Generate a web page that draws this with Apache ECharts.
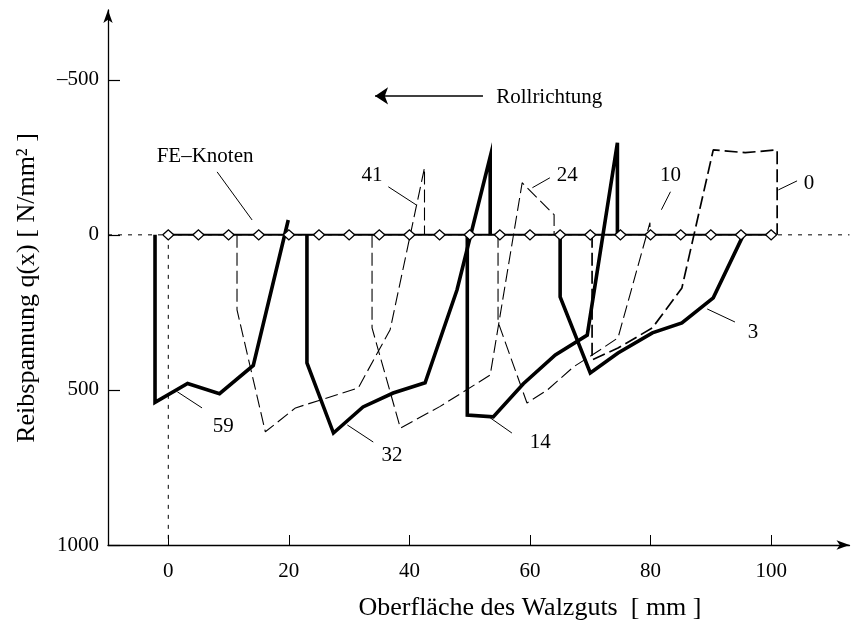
<!DOCTYPE html>
<html>
<head>
<meta charset="utf-8">
<script src="https://cdn.jsdelivr.net/npm/echarts@6/dist/echarts.min.js"></script>
<style>
html, body { margin: 0; padding: 0; background: #fff; }
#chart { width: 853px; height: 626px; }
</style>
</head>
<body>
<div id="chart"></div>
<script>
// Achsen
const xTicks = [0, 20, 40, 60, 80, 100];
const yTicks = [-500, 0, 500, 1000];

// FE-Knoten (x in mm)
const feNodes = [0, 5, 10, 15, 20, 25, 30, 35, 40, 45, 50, 55, 60, 65, 70, 75, 80, 85, 90, 95, 100];

// Reibspannungsverläufe [x mm, q N/mm²], durchgezogen
const curve59 = [[-2.2, 0], [-2.2, 540], [3.2, 479], [8.5, 512], [14.1, 421], [19.9, -48]];
const curve32 = [[23, 0], [23, 413], [27.4, 639], [32.3, 555], [37.3, 510], [42.6, 477], [47.9, 177], [53.4, -252], [53.4, 0]];
const curve14 = [[49.6, 0], [49.6, 581], [53.9, 587], [58.9, 480], [64.2, 387], [69.5, 323], [74.5, -297], [74.5, 0]];
const curve3 = [[65, 0], [65, 200], [70, 445], [74.6, 381], [80.3, 316], [85.2, 284], [90.4, 203], [95.4, 0]];

// gestrichelt
const curve41 = [[11.4, 0], [11.4, 242], [16.1, 635], [21.1, 558], [31.5, 494], [36.8, 306], [42.5, -216], [42.5, 0]];
const curve24 = [[33.8, 0], [33.8, 300], [38.5, 623], [45.1, 553], [53.4, 452], [58.7, -168], [64, -65], [64, 0]];
const curve10 = [[54.7, 0], [54.7, 281], [59.5, 542], [62.9, 500], [67.2, 426], [71.6, 371], [74.6, 332], [79.9, -39], [79.9, 0]];
const curve0 = [[70.3, 0], [70.3, 403], [74.6, 365], [80.3, 300], [85.2, 171], [90.4, -274], [95.7, -265], [101, -274], [101, 0]];

// Beschriftungen: Text, Position, Hinweislinie
const labelNames = ['59', '32', '14', '3', '41', '24', '10', '0', 'FE–Knoten', 'Rollrichtung'];
const labelPos = [[9.1, 619], [37.1, 710], [61.7, 671], [97, 316], [33.8, -190], [66.2, -190], [83.3, -190], [106.3, -165], [6.1, -252], [63.2, -442]];
const leaders = [
    [[1.5, 506], [5.6, 558]],
    [[29.7, 613], [34, 668]],
    [[53.4, 590], [57, 639]],
    [[89.4, 239], [94, 281]],
    [[36.5, -155], [41.1, -97]],
    [[63.3, -184], [60.4, -152]],
    [[83.3, -139], [81.8, -81]],
    [[104.3, -174], [101.2, -145]],
    [[8.1, -203], [13.9, -48]],
];
const rollArrow = [[52.2, -448], [34.3, -448]];

const font = '"Liberation Serif", "DejaVu Serif", serif';

function solid(name, data) {
    return {
        name: name, type: 'line', data: data, symbol: 'none', silent: true, z: 4,
        lineStyle: { color: '#000', width: 3.6, join: 'miter' },
    };
}
function dashed(name, data, width) {
    return {
        name: name, type: 'line', data: data, symbol: 'none', silent: true, z: 3,
        lineStyle: { color: '#000', width: width, type: [13, 5] },
    };
}

const chart = echarts.init(document.getElementById('chart'));
chart.setOption({
    animation: false,
    backgroundColor: '#fff',
    grid: { left: 108, top: 10, right: 3.5, bottom: 81, containLabel: false, outerBoundsMode: 'none' },
    xAxis: {
        type: 'value', min: -10, max: 113,
        splitLine: { show: false },
        axisLine: { onZero: false, symbol: ['none', 'arrow'], symbolSize: [7, 13], lineStyle: { color: '#000', width: 1.3 } },
        axisTick: { inside: true, length: 10, customValues: xTicks, lineStyle: { color: '#000' } },
        axisLabel: { customValues: xTicks, fontSize: 21, margin: 16, color: '#000', fontFamily: font },
    },
    yAxis: {
        type: 'value', inverse: true, min: -725, max: 1000,
        splitLine: { show: false },
        axisLine: { onZero: false, symbol: ['none', 'arrow'], symbolSize: [7, 13], lineStyle: { color: '#000', width: 1.3 } },
        axisTick: { inside: true, length: 12, customValues: yTicks, lineStyle: { color: '#000', width: 1.2 } },
        axisLabel: {
            customValues: yTicks, fontSize: 21, margin: 9, color: '#000', fontFamily: font,
            formatter: (v) => (v < 0 ? '–' + Math.abs(v) : String(v)),
        },
    },
    graphic: [
        {
            type: 'text', x: 530, y: 608,
            style: { text: 'Oberfläche des Walzguts  [ mm ]', font: '26px ' + font, fill: '#000', textAlign: 'center', textVerticalAlign: 'middle' },
        },
        {
            type: 'text', x: 27, y: 288, rotation: Math.PI / 2,
            style: { text: 'Reibspannung q(x) [ N/mm² ]', font: '26px ' + font, fill: '#000', textAlign: 'center', textVerticalAlign: 'middle' },
        },
    ],
    series: [
        {
            type: 'line', data: [[-10, 0], [113, 0]], symbol: 'none', silent: true, z: 1,
            lineStyle: { color: '#000', width: 1, type: [4, 6] },
        },
        {
            type: 'line', data: [[0, 0], [0, 1000]], symbol: 'none', silent: true, z: 1,
            lineStyle: { color: '#000', width: 1, type: [4, 6] },
        },
        dashed('41', curve41, 1.1),
        dashed('24', curve24, 1.1),
        dashed('10', curve10, 1.1),
        dashed('0', curve0, 1.7),
        solid('59', curve59),
        solid('32', curve32),
        solid('14', curve14),
        solid('3', curve3),
        {
            name: 'FE-Knoten', type: 'line', data: feNodes.map((x) => [x, 0]), silent: true, z: 6,
            symbol: 'diamond', symbolSize: [11, 10], showAllSymbol: true,
            lineStyle: { color: '#000', width: 2 },
            itemStyle: { color: '#fff', borderColor: '#000', borderWidth: 1.4 },
        },
        {
            type: 'lines', coordinateSystem: 'cartesian2d', silent: true, z: 5,
            data: leaders.map((c) => ({ coords: c })),
            lineStyle: { color: '#000', width: 1, opacity: 1 },
        },
        {
            type: 'lines', coordinateSystem: 'cartesian2d', silent: true, z: 5,
            symbol: ['none', 'arrow'], symbolSize: [13, 13],
            data: [{ coords: rollArrow }],
            lineStyle: { color: '#000', width: 1.6, opacity: 1 },
        },
        {
            type: 'scatter', silent: true, z: 7, symbolSize: 0,
            itemStyle: { opacity: 1 },
            data: labelNames.map((n, i) => ({ name: n, value: labelPos[i] })),
            label: {
                show: true, position: 'inside', formatter: (p) => p.name, opacity: 1,
                fontSize: 21, color: '#000', fontFamily: font,
            },
        },
    ],
});
</script>
</body>
</html>
